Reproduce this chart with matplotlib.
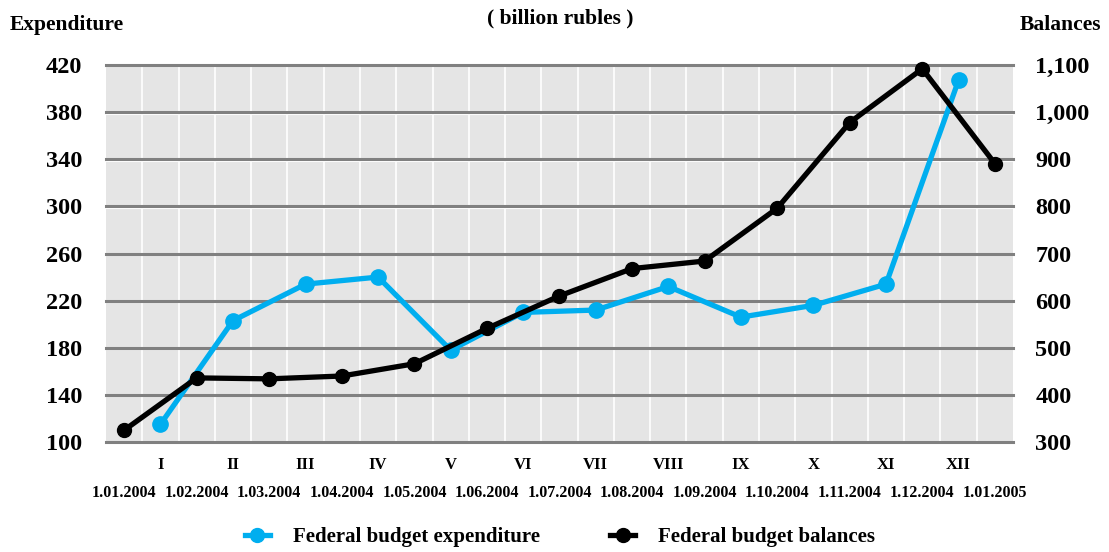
import matplotlib
matplotlib.use("Agg")
import matplotlib.pyplot as plt
from matplotlib.lines import Line2D
import numpy as np

# data
months = ["I", "II", "III", "IV", "V", "VI", "VII", "VIII", "IX", "X", "XI", "XII"]
dates = ["1.01.2004", "1.02.2004", "1.03.2004", "1.04.2004", "1.05.2004", "1.06.2004",
         "1.07.2004", "1.08.2004", "1.09.2004", "1.10.2004", "1.11.2004", "1.12.2004",
         "1.01.2005"]
expenditure = [115, 203, 234, 240, 178, 210, 212, 232, 206, 216, 234, 407]
balances = [325, 436, 434, 440, 466, 541, 610, 668, 684, 796, 978, 1092, 891]

left_ticks = [100, 140, 180, 220, 260, 300, 340, 380, 420]
right_ticks = [300, 400, 500, 600, 700, 800, 900, 1000, 1100]

BLUE = "#00aeef"
FONT = "Liberation Serif"
plt.rcParams["font.family"] = FONT
plt.rcParams["font.weight"] = "bold"

fig = plt.figure(figsize=(11.09, 5.52), dpi=100)
ax = fig.add_axes([0.0956, 0.1993, 0.8178, 0.6829])
ax.set_facecolor("#e5e5e5")
ax.set_xlim(-0.25, 12.25)
ax.set_ylim(100, 420)

# background grid: white verticals, grey horizontals
for xv in np.arange(0.25, 12.25, 0.5):
    ax.axvline(xv, color="white", lw=1.2, zorder=0.5)
for yv in left_ticks:
    ax.axhline(yv - 1.2, color="white", lw=1.5, zorder=0.6, clip_on=False)
    ax.axhline(yv, color="#808080", lw=2.2, zorder=0.7, clip_on=False)

x_month = np.arange(len(expenditure)) + 0.5
x_date = np.arange(len(balances))

ax.plot(x_month, expenditure, color=BLUE, lw=3.8, marker="o", ms=11, zorder=3, clip_on=False)

ax.set_yticks(left_ticks)
ax.set_yticklabels([str(v) for v in left_ticks], fontsize=17.5)
ax.set_xticks([])
for s in ax.spines.values():
    s.set_visible(False)
ax.tick_params(axis="y", length=0, pad=17)

ax2 = ax.twinx()
ax2.set_ylim(300, 1100)
ax2.plot(x_date, balances, color="black", lw=3.8, marker="o", ms=10, zorder=4, clip_on=False)
ax2.set_yticks(right_ticks)
ax2.set_yticklabels([f"{v:,}" for v in right_ticks], fontsize=17.5)
ax2.tick_params(axis="y", length=0, pad=16)
for s in ax2.spines.values():
    s.set_visible(False)

# month and date labels under the axis
for xm, m in zip(x_month, months):
    ax.text(xm, -0.06, m, transform=ax.get_xaxis_transform(), ha="center", va="center",
            fontsize=12)
for xd, d in zip(x_date, dates):
    ax.text(xd, -0.135, d, transform=ax.get_xaxis_transform(), ha="center", va="center",
            fontsize=11.5)

fig.text(0.009, 0.955, "Expenditure", ha="left", va="center", fontsize=15.5)
fig.text(0.993, 0.955, "Balances", ha="right", va="center", fontsize=15.5)
fig.text(0.505, 0.967, "( billion rubles )", ha="center", va="center", fontsize=15.5)

handles = [Line2D([], [], color=BLUE, lw=3.8, marker="o", ms=10),
           Line2D([], [], color="black", lw=3.8, marker="o", ms=10)]
fig.legend(handles, ["Federal budget expenditure", "Federal budget balances"],
           loc="center", bbox_to_anchor=(0.505, 0.027), ncol=2, frameon=False,
           fontsize=15, handlelength=1.2, columnspacing=3.4, handletextpad=1.1)

fig.savefig("out.png", dpi=100)
